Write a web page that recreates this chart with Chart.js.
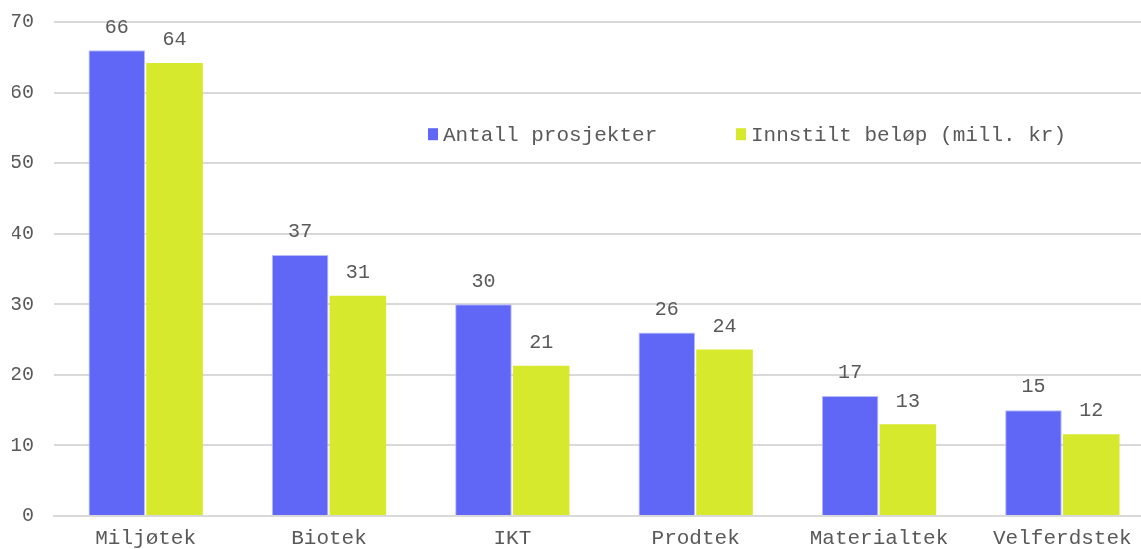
<!DOCTYPE html>
<html>
<head>
<meta charset="utf-8">
<script src="https://cdn.jsdelivr.net/npm/chart.js@4.4.1/dist/chart.umd.min.js"></script>
<style>
  html, body { margin: 0; padding: 0; background: #fff; overflow: hidden; }
  #wrap { width: 1154px; height: 549px; position: relative; }
</style>
</head>
<body>
<div id="wrap"><canvas id="chart"></canvas></div>
<script>
const categories = ['Miljøtek', 'Biotek', 'IKT', 'Prodtek', 'Materialtek', 'Velferdstek'];
const antallProsjekter = [66, 37, 30, 26, 17, 15];
const innstiltBelop = [64.2, 31.2, 21.3, 23.6, 13.0, 11.6];
const seriesNames = ['Antall prosjekter', 'Innstilt beløp (mill. kr)'];
const yTicks = [0, 10, 20, 30, 40, 50, 60, 70];

const FONT = "'Courier New', 'Liberation Mono', monospace";
const textColor = '#595959';

// tall over hver søyle
const valueLabels = {
    id: 'valueLabels',
    afterDatasetsDraw(chart) {
        const ctx = chart.ctx;
        ctx.save();
        ctx.font = '20px ' + FONT;
        ctx.fillStyle = textColor;
        ctx.textAlign = 'center';
        ctx.textBaseline = 'bottom';
        chart.data.datasets.forEach((ds, i) => {
            chart.getDatasetMeta(i).data.forEach((bar, j) => {
                ctx.fillText(Math.round(ds.data[j]), bar.x, bar.y - 13);
            });
        });
        ctx.restore();
    }
};

// legende inne i plottet
const innerLegend = {
    id: 'innerLegend',
    afterDraw(chart) {
        const ctx = chart.ctx;
        const y = chart.scales.y.getPixelForValue(54.1);
        const starts = [428, 736];
        ctx.save();
        ctx.font = '21px ' + FONT;
        ctx.textBaseline = 'middle';
        chart.data.datasets.forEach((ds, i) => {
            ctx.fillStyle = ds.backgroundColor;
            ctx.fillRect(starts[i], y - 6, 10, 12);
            ctx.fillStyle = textColor;
            ctx.fillText(ds.label, starts[i] + 15, y + 1);
        });
        ctx.restore();
    }
};

new Chart(document.getElementById('chart'), {
    type: 'bar',
    data: {
        labels: categories,
        datasets: [
            {
                label: seriesNames[0],
                data: antallProsjekter,
                backgroundColor: '#6066F5',
                borderColor: '#b9bcfa',
                borderWidth: 1,
                categoryPercentage: 0.63,
                barPercentage: 0.98
            },
            {
                label: seriesNames[1],
                data: innstiltBelop,
                backgroundColor: '#D7E92C',
                categoryPercentage: 0.63,
                barPercentage: 0.98
            }
        ]
    },
    options: {
        responsive: true,
        maintainAspectRatio: false,
        animation: false,
        layout: { padding: { top: 22, left: 12, right: 0, bottom: 0 } },
        plugins: {
            legend: { display: false },
            tooltip: { enabled: false }
        },
        scales: {
            x: {
                grid: { display: false, drawTicks: false },
                border: { color: '#d9d9d9', width: 2 },
                ticks: { color: textColor, font: { family: FONT, size: 21, lineHeight: 1 }, padding: 12 },
                afterFit: (s) => { s.height = 33; s.paddingLeft = 0; s.paddingRight = 0; }
            },
            y: {
                min: 0,
                max: 70,
                afterBuildTicks: (axis) => { axis.ticks = yTicks.map(v => ({ value: v })); },
                grid: { color: '#d9d9d9', lineWidth: 2, drawTicks: false },
                border: { display: false },
                ticks: { color: textColor, font: { family: FONT, size: 20 }, padding: 20 },
                afterFit: (s) => { s.width = 42; s.paddingTop = 0; s.paddingBottom = 0; }
            }
        }
    },
    plugins: [valueLabels, innerLegend]
});
</script>
</body>
</html>
